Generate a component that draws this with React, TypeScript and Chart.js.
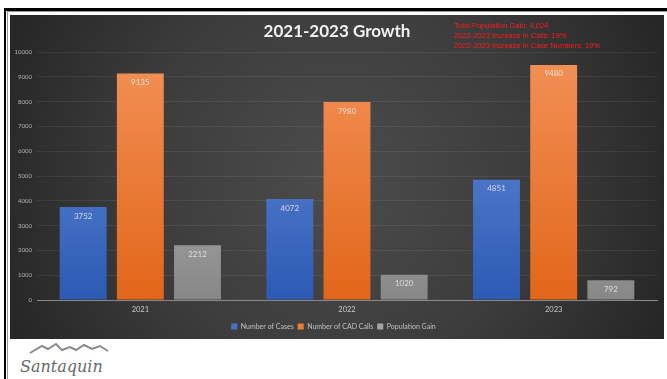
import React, { useEffect, useRef } from "react";
import { Chart, registerables } from "chart.js";

Chart.register(...registerables);

const categories = ["2021", "2022", "2023"];
const casesValues = [3752, 4072, 4851];
const cadCallsValues = [9135, 7980, 9480];
const populationGainValues = [2212, 1020, 792];
const yTicks = [0, 1000, 2000, 3000, 4000, 5000, 6000, 7000, 8000, 9000, 10000];
const titleText = "2021-2023 Growth";
const noteLines = [
  "Total Population Gain: 4,024",
  "2022-2023 Increase in Calls: 19%",
  "2022-2023 Increase in Case Numbers: 19%",
];

const FONT = "Lato, 'Open Sans', sans-serif";

function gradientFor(top: string, bottom: string) {
  return (ctx: any) => {
    const chart = ctx.chart;
    const area = chart.chartArea;
    if (!area) return bottom;
    const g = chart.ctx.createLinearGradient(0, area.top, 0, area.bottom);
    g.addColorStop(0, top);
    g.addColorStop(1, bottom);
    return g;
  };
}

const bgPlugin = {
  id: "bgPlugin",
  beforeDraw(chart: any) {
    const { ctx, width, height } = chart;
    ctx.save();
    const cx = width * 0.5;
    const cy = height * 0.5;
    const g = ctx.createRadialGradient(cx, cy, 0, cx, cy, Math.max(width, height) * 0.55);
    g.addColorStop(0, "#4c4c4c");
    g.addColorStop(0.55, "#3c3c3c");
    g.addColorStop(1, "#262626");
    ctx.fillStyle = g;
    ctx.fillRect(0, 0, width, height);
    ctx.restore();
  },
};

const textPlugin = {
  id: "textPlugin",
  afterDraw(chart: any) {
    const { ctx } = chart;
    ctx.save();
    ctx.fillStyle = "#f2f2f2";
    ctx.font = `bold 17px ${FONT}`;
    ctx.textAlign = "center";
    ctx.textBaseline = "middle";
    ctx.fillText(titleText, 327, 17);
    ctx.fillStyle = "#ff1a1a";
    ctx.font = `7.5px 'Liberation Sans', Arial, sans-serif`;
    ctx.textAlign = "left";
    noteLines.forEach((line, i) => {
      ctx.fillText(line, 444, 11 + i * 10);
    });
    ctx.restore();
  },
};

const labelPlugin = {
  id: "labelPlugin",
  afterDatasetsDraw(chart: any) {
    const { ctx } = chart;
    ctx.save();
    ctx.fillStyle = "rgba(240,240,240,0.8)";
    ctx.font = `8px ${FONT}`;
    ctx.textAlign = "center";
    ctx.textBaseline = "middle";
    chart.data.datasets.forEach((ds: any, di: number) => {
      const meta = chart.getDatasetMeta(di);
      meta.data.forEach((el: any, i: number) => {
        ctx.fillText(String(ds.data[i]), el.x, el.y + 9);
      });
    });
    ctx.restore();
  },
};

function ChartBox() {
  const ref = useRef<HTMLCanvasElement | null>(null);
  useEffect(() => {
    if (!ref.current) return;
    const chart = new Chart(ref.current, {
      type: "bar",
      data: {
        labels: categories,
        datasets: [
          {
            label: "Number of Cases",
            data: casesValues,
            backgroundColor: gradientFor("#6a8fdc", "#2c5bb4"),
          },
          {
            label: "Number of CAD Calls",
            data: cadCallsValues,
            backgroundColor: gradientFor("#f29157", "#e2661a"),
          },
          {
            label: "Population Gain",
            data: populationGainValues,
            backgroundColor: gradientFor("#c4c4c4", "#878787"),
          },
        ],
      },
      options: {
        responsive: false,
        animation: false,
        layout: { padding: { top: 37, left: 0, right: 7, bottom: -1 } },
        datasets: {
          bar: { categoryPercentage: 0.83, barPercentage: 0.82 },
        },
        scales: {
          x: {
            grid: { display: false },
            border: { display: true, color: "#8a8a8a", width: 1 },
            ticks: { color: "#c8c8c8", font: { size: 7.5, family: FONT }, padding: -3 },
            afterFit: (scale: any) => {
              scale.height = 19;
            },
          },
          y: {
            min: 0,
            max: 10000,
            afterBuildTicks: (scale: any) => {
              scale.ticks = yTicks.map((v) => ({ value: v }));
            },
            afterFit: (scale: any) => {
              scale.width = 27;
            },
            grid: { color: "rgba(255,255,255,0.07)", drawTicks: false },
            border: { display: false },
            ticks: {
              color: "#b4b4b4",
              font: { size: 6, family: FONT },
              padding: 5,
              callback: (v: any) => String(v),
            },
          },
        },
        plugins: {
          title: { display: false },
          tooltip: { enabled: false },
          legend: {
            position: "bottom",
            labels: {
              color: "#c0c0c0",
              boxWidth: 6,
              boxHeight: 6,
              padding: 4,
              font: { size: 7, family: FONT },
              generateLabels: (chart: any) =>
                chart.data.datasets.map((ds: any, i: number) => ({
                  text: ds.label,
                  fillStyle: ["#4472c4", "#ed7d31", "#a5a5a5"][i],
                  strokeStyle: "transparent",
                  lineWidth: 0,
                  fontColor: "#c0c0c0",
                  datasetIndex: i,
                })),
            },
          },
        },
      },
      plugins: [bgPlugin, labelPlugin, textPlugin],
    });
    return () => chart.destroy();
  }, []);
  return <canvas ref={ref} width={654} height={324} style={{ display: "block" }} />;
}

export default function App() {
  return (
    <div style={{ position: "absolute", left: 0, top: 0, width: 667, height: 379, background: "#fff", overflow: "hidden" }}>
      <div style={{ position: "absolute", left: 4, top: 8, width: 663, height: 3, background: "#000" }} />
      <div style={{ position: "absolute", left: 4, top: 8, width: 2, height: 371, background: "#000" }} />
      <div style={{ position: "absolute", left: 7, top: 11, width: 660, height: 1, background: "#999" }} />
      <div style={{ position: "absolute", left: 7, top: 11, width: 1, height: 368, background: "#999" }} />
      <div style={{ position: "absolute", left: 10, top: 15 }}>
        <ChartBox />
      </div>
      <svg style={{ position: "absolute", left: 14, top: 340 }} width={120} height={39}>
        <path d="M16 13 L28 6 L34 9 L42 4 L48 10 L56 7 L62 10 L70 5 L78 9 L86 6 L94 11" stroke="#8a8a8a" strokeWidth={2} fill="none" />
        <text x={6} y={32} fontFamily="'DejaVu Serif', serif" fontStyle="italic" fontSize={16} fill="#6a6a6a">Santaquin</text>
      </svg>
    </div>
  );
}
